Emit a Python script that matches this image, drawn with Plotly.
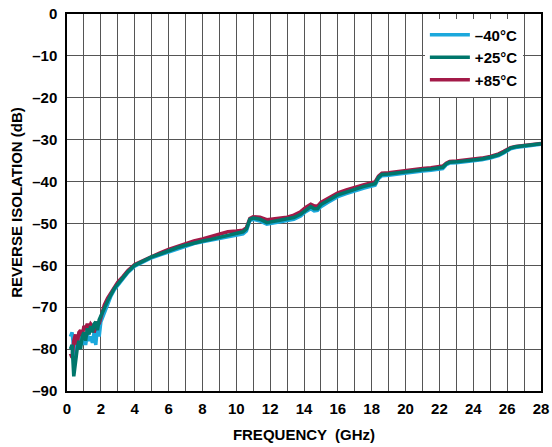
import plotly.graph_objects as go

freq = [0.2, 0.3, 0.4, 0.5, 0.6, 0.7, 0.8, 0.9, 1.0, 1.1, 1.2, 1.3, 1.4, 1.5, 1.6, 1.7, 1.8, 1.9, 2.0,
        2.2, 2.4, 2.6, 2.8, 3.0, 3.3, 3.6, 4.0, 4.5, 5.0, 5.5, 6.0, 6.5, 7.0, 7.5, 8.0, 8.5, 9.0, 9.5,
        10.0, 10.4, 10.6, 10.8, 11.0, 11.4, 11.8, 12.2, 12.6, 13.0, 13.4, 13.8, 14.1, 14.4, 14.6, 14.8,
        15.0, 15.4, 16.0, 16.5, 17.0, 17.5, 18.0, 18.2, 18.4, 18.6, 19.0, 19.5, 20.0, 20.5, 21.0, 21.5,
        22.0, 22.2, 22.4, 22.6, 23.0, 23.5, 24.0, 24.5, 25.0, 25.5, 25.8, 26.0, 26.2, 26.5, 27.0, 27.5, 28.0]

iso_m40 = [-77, -76, -80, -82, -78, -79.5, -77, -79, -77.5, -79, -76.5, -78, -77, -78.5, -76, -79, -74.5, -77, -73.5,
           -71.5, -69, -67.3, -65.8, -64.8, -63.2, -61.7, -60.2, -59.2, -58.2, -57.5, -56.8, -56, -55.4, -54.8, -54.4, -54, -53.6, -53.2,
           -53, -52.5, -51.8, -49.3, -49, -49.4, -50.2, -49.8, -49.6, -49.3, -49, -48.2, -47.2, -46.5, -47, -46.9,
           -46, -45, -43.6, -42.9, -42.2, -41.6, -41.1, -40.9, -39.3, -38.6, -38.5, -38.2, -37.9, -37.7, -37.5, -37.3,
           -37.1, -36.9, -36, -35.6, -35.5, -35.3, -35.1, -34.8, -34.4, -33.8, -33.2, -32.6, -32.2, -31.9, -31.6, -31.3, -31.1]

iso_p25 = [-80, -79, -86.5, -83, -80, -78, -80, -77, -76, -78, -75, -76.5, -74.5, -76, -74, -73.5, -75.5, -73, -72,
           -70.5, -68.5, -67, -65.5, -64.5, -63, -61.5, -60, -59, -58, -57.3, -56.5, -55.8, -55.2, -54.6, -54.2, -53.8, -53.3, -52.8,
           -52.5, -52, -51.3, -49, -48.7, -49, -49.8, -49.5, -49.2, -49, -48.6, -47.8, -46.8, -46, -46.5, -46.5,
           -45.5, -44.5, -43.2, -42.5, -41.8, -41.2, -40.7, -40.5, -39, -38.3, -38.2, -37.9, -37.6, -37.4, -37.2, -37,
           -36.8, -36.6, -35.8, -35.4, -35.3, -35.1, -34.9, -34.6, -34.2, -33.6, -33, -32.4, -32, -31.7, -31.4, -31.2, -31]

iso_p85 = [-81, -82, -78, -76.5, -79, -76, -75.5, -77, -74.5, -75, -74, -75, -74, -74.5, -76, -75, -73.5, -74, -72.5,
           -69.5, -67.8, -66.5, -65.2, -64, -62.7, -61.2, -59.8, -58.8, -57.8, -57, -56.2, -55.5, -54.8, -54.2, -53.7, -53.2, -52.6, -52,
           -51.8, -51.6, -51, -48.8, -48.4, -48.5, -49.1, -48.9, -48.7, -48.5, -48, -47.2, -46.2, -45.4, -45.8, -45.9,
           -45, -44, -42.7, -42, -41.3, -40.8, -40.3, -40.1, -38.7, -38, -37.9, -37.6, -37.3, -37.1, -36.9, -36.7,
           -36.5, -36.3, -35.6, -35.2, -35.1, -34.9, -34.7, -34.4, -34, -33.4, -32.8, -32.3, -31.9, -31.6, -31.3, -31.1, -30.9]

x_ticks = list(range(0, 29, 2))
y_ticks = list(range(-90, 1, 10))
y_ticktext = [("–" + str(-v)) if v < 0 else "0" for v in y_ticks]

font = dict(family="Liberation Sans, Arial, sans-serif", size=15, color="black", weight="bold")

fig = go.Figure()
series = [("–40°C", iso_m40, "#1BA8DC"), ("+85°C", iso_p85, "#A31A48"), ("+25°C", iso_p25, "#00766B")]
for name, vals, col in series:
    fig.add_trace(go.Scatter(x=freq, y=vals, mode="lines", name=name,
                             line=dict(color=col, width=3.5)))

fig.update_layout(
    width=552, height=447,
    margin=dict(l=67, r=11, t=14, b=56, autoexpand=False),
    paper_bgcolor="white", plot_bgcolor="white",
    font=font,
    showlegend=True,
    legend=dict(x=0.755, y=0.988, xanchor="left", yanchor="top", bgcolor="white",
                traceorder="normal", font=font, itemwidth=40, tracegroupgap=0),
    xaxis=dict(range=[0, 28], tickvals=x_ticks, ticktext=[str(v) for v in x_ticks],
               showgrid=True, gridcolor="#555", gridwidth=1,
               minor=dict(dtick=1, showgrid=True, gridcolor="#555", gridwidth=1),
               showline=True, linecolor="black", linewidth=1.5, mirror=True,
               ticks="", zeroline=False, tickfont=font, ticklabelstandoff=3, automargin=False,
               title=dict(text="FREQUENCY  (GHz)", font=font, standoff=14)),
    yaxis=dict(range=[-90, 0], tickvals=y_ticks, ticktext=y_ticktext,
               showgrid=True, gridcolor="#555", gridwidth=1,
               showline=True, linecolor="black", linewidth=1.5, mirror=True,
               ticks="", zeroline=False, tickfont=font, ticklabelstandoff=5, automargin=False,
               title=dict(text="REVERSE ISOLATION (dB)", font=font, standoff=6)),
)

# Legend order: -40, +25, +85
fig.data[0].legendrank = 1
fig.data[2].legendrank = 2
fig.data[1].legendrank = 3

fig.write_html("out.html")
